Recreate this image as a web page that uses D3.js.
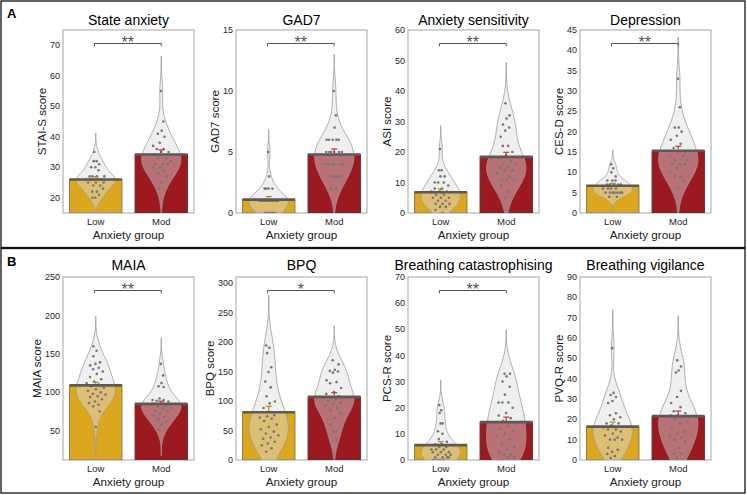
<!DOCTYPE html>
<html><head><meta charset="utf-8">
<script src="https://cdn.jsdelivr.net/npm/d3@7"></script>
<style>
body{margin:0;background:#fff}
text{font-family:"Liberation Sans", Arial, Helvetica, sans-serif}
</style>
</head><body>
<svg id="c" width="747" height="495"></svg>
<script>
// ---------- data ----------
const groups = ["Low", "Mod"];
const titles = ["State anxiety", "GAD7", "Anxiety sensitivity", "Depression",
                "MAIA", "BPQ", "Breathing catastrophising", "Breathing vigilance"];
const yLabels = ["STAI-S score", "GAD7 score", "ASI score", "CES-D score",
                 "MAIA score", "BPQ score", "PCS-R score", "PVQ-R score"];
const yDomains = [[15, 75], [0, 15], [0, 60], [0, 45], [12, 250], [0, 310], [0, 70], [0, 90]];
const yTicks = [
  [20, 30, 40, 50, 60, 70],
  [0, 5, 10, 15],
  [0, 10, 20, 30, 40, 50, 60],
  [0, 5, 10, 15, 20, 25, 30, 35, 40, 45],
  [50, 100, 150, 200, 250],
  [0, 50, 100, 150, 200, 250, 300],
  [0, 10, 20, 30, 40, 50, 60, 70],
  [0, 10, 20, 30, 40, 50, 60, 70, 80, 90]
];
const xLabel = "Anxiety group";
const meansLow = [26, 1.1, 6.8, 6.7, 109, 81, 5.7, 16.4];
const meansMod = [34.2, 4.8, 18.4, 15.3, 85, 107, 14.5, 21.6];
const semLow = [0.9, 0.25, 1.1, 0.6, 4, 10, 1.3, 2.2];
const semMod = [1.5, 0.45, 1.5, 1.1, 3.5, 7, 1.9, 2.5];
const significance = ["**", "**", "**", "**", "**", "*", "**", ""];

const scoresLow = [
  [35, 32, 32, 31, 30, 30, 29, 27, 27, 27, 27, 26, 26, 26, 26, 26, 25, 25, 25, 24, 24, 23, 22, 22, 21, 20, 20],
  [5, 3, 2, 2, 2, 2, 1, 1, 1, 1, 1, 1, 1, 1, 1, 1, 1, 1, 1, 0, 0, 0, 0, 0, 0, 0],
  [21, 14, 14, 12, 12, 10, 10, 10, 9, 8, 8, 7, 7, 7, 6, 6, 5, 5, 5, 4, 4, 3, 3, 3, 2, 2, 1, 0],
  [12, 11, 10, 9, 8, 8, 8, 7, 7, 7, 7, 7, 6, 6, 6, 6, 5, 5, 5, 5, 5, 5, 5, 4, 4],
  [160, 154, 147, 139, 137, 135, 132, 130, 127, 124, 120, 117, 114, 112, 110, 108, 106, 104, 102, 100, 98, 97, 95, 94, 91, 88, 86, 84, 82, 75, 55],
  [194, 190, 181, 157, 149, 133, 123, 108, 99, 96, 88, 76, 74, 72, 70, 66, 60, 56, 52, 48, 45, 42, 38, 36, 31, 28, 25, 20, 14],
  [21, 19, 18, 14, 14, 11, 10, 8, 7, 6, 6, 5, 5, 4, 4, 4, 3, 3, 3, 2, 2, 2, 1, 1, 1, 0, 0, 0, 0, 1],
  [55, 33, 32, 31, 29, 28, 23, 22, 21, 20, 18, 18, 17, 16, 15, 15, 14, 13, 12, 11, 10, 10, 10, 6, 5, 4, 3, 2, 1]
];
const scoresMod = [
  [55, 45, 42, 41, 40, 38, 37, 36, 36, 35, 35, 34, 33, 33, 32, 31, 31, 31, 30, 30, 29, 28, 27, 25, 23],
  [10, 8, 7, 6, 6, 6, 6, 6, 5, 5, 5, 5, 5, 5, 4, 4, 4, 4, 4, 4, 3, 3, 3, 3, 2, 2],
  [36, 32, 31, 29, 28, 27, 25, 22, 22, 20, 19, 18, 17, 16, 16, 15, 15, 14, 14, 13, 12, 11, 11, 11, 9, 7, 5],
  [33, 26, 21, 21, 20, 19, 18, 17, 16, 15, 15, 14, 14, 13, 13, 12, 12, 12, 11, 10, 9, 9, 8, 6],
  [137, 122, 112, 108, 107, 92, 90, 90, 89, 88, 86, 85, 84, 82, 80, 79, 76, 75, 72, 70, 68, 65, 62, 58, 51],
  [169, 162, 153, 151, 150, 148, 135, 132, 130, 122, 115, 112, 108, 106, 104, 102, 100, 97, 95, 92, 88, 84, 80, 71, 60, 48, 48, 34],
  [33, 33, 32, 30, 28, 25, 22, 22, 22, 20, 18, 17, 16, 15, 14, 13, 12, 11, 10, 9, 8, 6, 5, 4, 3, 2, 2, 1, 1, 0],
  [49, 46, 44, 43, 34, 31, 28, 26, 24, 23, 22, 22, 21, 20, 19, 18, 16, 14, 13, 12, 11, 10, 9, 6, 3, 3, 1]
];

// ---------- layout / style ----------
const colLeft = [63, 236, 408, 580];
const rowTop = [30, 277];
const PW = 131, PH = 183;
const barFill = ["#dca71f", "#9c1a1f"];
const barStroke = ["#8c7a4c", "#6a3033"];
const errColor = ["#b58a2c", "#b8383d"];

const svg = d3.select("#c");

// outer frames and section letters
svg.append("rect").attr("x", 1).attr("y", 1).attr("width", 744).attr("height", 246.5)
  .attr("fill", "none").attr("stroke", "#111").attr("stroke-width", 1.3);
svg.append("rect").attr("x", 1).attr("y", 248.5).attr("width", 744).attr("height", 244.5)
  .attr("fill", "none").attr("stroke", "#111").attr("stroke-width", 1.3);
svg.append("text").attr("x", 7).attr("y", 18).attr("font-size", 13).attr("font-weight", "bold").text("A");
svg.append("text").attr("x", 7).attr("y", 266).attr("font-size", 13).attr("font-weight", "bold").text("B");

function kdeAt(data, h, v) {
  return d3.mean(data, d => Math.exp(-0.5 * ((v - d) / h) ** 2)) / (h * Math.sqrt(2 * Math.PI));
}

titles.forEach((title, i) => {
  const row = Math.floor(i / 4);
  const left = colLeft[i % 4], top = rowTop[row];
  const x = d3.scaleLinear().domain([0.5, 2.5]).range([left, left + PW]);
  const y = d3.scaleLinear().domain(yDomains[i]).range([top + PH, top]);
  const g = svg.append("g");
  const cid = "clip" + i;
  svg.append("clipPath").attr("id", cid).append("rect")
    .attr("x", left).attr("y", top).attr("width", PW).attr("height", PH);

  // frame
  g.append("rect").attr("x", left).attr("y", top).attr("width", PW).attr("height", PH)
    .attr("fill", "#fff").attr("stroke", "#a6a6a6").attr("stroke-width", 1);

  const inner = g.append("g").attr("clip-path", `url(#${cid})`);
  const sets = [scoresLow[i], scoresMod[i]];
  const means = [meansLow[i], meansMod[i]];
  const sems = [semLow[i], semMod[i]];
  const y0 = yDomains[i][0];

  sets.forEach((data, k) => {
    const pos = k + 1;
    // bar
    inner.append("rect")
      .attr("x", x(pos - 0.4)).attr("width", x(pos + 0.4) - x(pos - 0.4))
      .attr("y", y(means[k])).attr("height", y(y0) - y(means[k]))
      .attr("fill", barFill[k]).attr("stroke", barStroke[k]).attr("stroke-width", 1);

    // violin
    const n = data.length;
    const h = 1.06 * d3.deviation(data) * Math.pow(n, -0.2);
    const lo = d3.min(data) - 3 * h, hi = d3.max(data) + 3 * h;
    const grid = d3.range(121).map(j => lo + (hi - lo) * j / 120);
    const dens = grid.map(v => ({ v, d: kdeAt(data, h, v) }));
    const maxD = d3.max(dens, d => d.d);
    const area = d3.area()
      .y(d => y(d.v))
      .x0(d => x(pos - 0.3 * d.d / maxD))
      .x1(d => x(pos + 0.3 * d.d / maxD));
    inner.append("path").datum(dens).attr("d", area)
      .attr("fill", "#dcdcdc").attr("fill-opacity", 0.45)
      .attr("stroke", "#999").attr("stroke-width", 0.8);

    // points (deterministic spread inside violin)
    inner.selectAll(null).data(data).enter().append("circle")
      .attr("cx", (d, j) => {
        const jit = ((j * 0.6180339887 + 0.31 * k) % 1) * 2 - 1;
        return x(pos + jit * 0.16 * kdeAt(data, h, d) / maxD);
      })
      .attr("cy", d => y(d))
      .attr("r", 1.3).attr("fill", "#767676");

    // mean line
    inner.append("line")
      .attr("x1", x(pos - 0.4)).attr("x2", x(pos + 0.4))
      .attr("y1", y(means[k])).attr("y2", y(means[k]))
      .attr("stroke", "#5a5a5a").attr("stroke-width", 2.6);

    // error bar
    const ey = y(means[k] + sems[k]);
    inner.append("line").attr("x1", x(pos)).attr("x2", x(pos))
      .attr("y1", y(means[k]) - 1.3).attr("y2", ey)
      .attr("stroke", errColor[k]).attr("stroke-width", 1.2);
    inner.append("line").attr("x1", x(pos) - 3).attr("x2", x(pos) + 3)
      .attr("y1", ey).attr("y2", ey)
      .attr("stroke", errColor[k]).attr("stroke-width", 1.2);
  });

  // y ticks
  const tickG = g.append("g");
  let maxW = 0;
  yTicks[i].forEach(t => {
    const tx = tickG.append("text").attr("x", left - 3).attr("y", y(t)).attr("dy", "0.35em")
      .attr("text-anchor", "end").attr("font-size", 9).attr("fill", "#262626").text(t);
    maxW = Math.max(maxW, tx.node().getComputedTextLength());
  });

  // x tick labels
  groups.forEach((gname, k) => {
    g.append("text").attr("x", x(k + 1)).attr("y", top + PH + 12)
      .attr("text-anchor", "middle").attr("font-size", 9.5).attr("fill", "#262626").text(gname);
  });

  // axis labels
  g.append("text").attr("x", left + PW / 2).attr("y", top + PH + 25.5)
    .attr("text-anchor", "middle").attr("font-size", 11.7).attr("fill", "#1a1a1a").text(xLabel);
  g.append("text")
    .attr("transform", `translate(${left - 3 - maxW - 3.5},${top + PH / 2}) rotate(-90)`)
    .attr("text-anchor", "middle").attr("font-size", 11.5).attr("fill", "#1a1a1a").text(yLabels[i]);

  // title
  g.append("text").attr("x", left + PW / 2).attr("y", row === 0 ? top - 5 : top - 7)
    .attr("text-anchor", "middle").attr("font-size", 14).attr("fill", "#000").text(title);

  // significance bracket
  if (significance[i]) {
    const by = top + 13.5;
    g.append("path")
      .attr("d", `M${x(0.98)},${by + 2.8}V${by}H${x(2)}V${by + 2.8}`)
      .attr("fill", "none").attr("stroke", "#555").attr("stroke-width", 1);
    g.append("text").attr("x", (x(0.98) + x(2)) / 2).attr("y", top + 17.5)
      .attr("text-anchor", "middle").attr("font-size", 16).attr("fill", "#555").text(significance[i]);
  }
});
</script>
</body></html>
